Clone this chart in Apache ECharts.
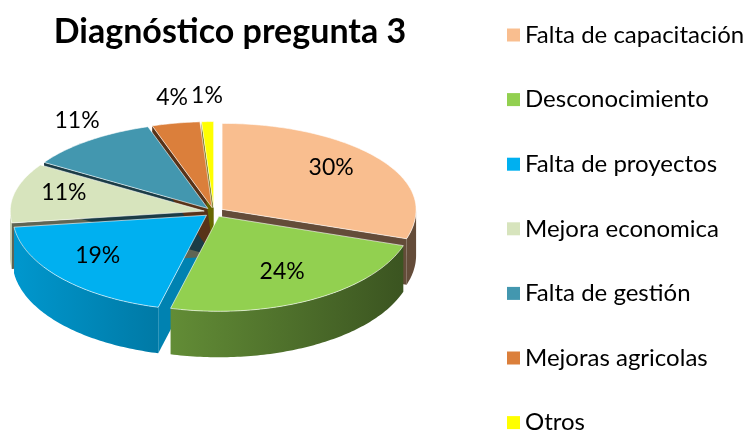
<!DOCTYPE html>
<html>
<head>
<meta charset="utf-8">
<script src="https://cdn.jsdelivr.net/npm/echarts@6/dist/echarts.min.js"></script>
<style>
  html, body { margin: 0; background: #fff; }
  #chart { width: 756px; height: 432px; }
</style>
</head>
<body>
<div id="chart"></div>
<script>
// data
var categories = ['Falta de capacitación', 'Desconocimiento', 'Falta de proyectos',
  'Mejora economica', 'Falta de gestión', 'Mejoras agricolas', 'Otros'];
var values = [30, 24, 19, 11, 11, 4, 1];

// styles
var colors = ['#F9BE8F', '#92D050', '#00B0F0', '#D7E4BD', '#4397AF', '#DB7F3B', '#FFFF00'];
var outsideLabels = ['Falta de gestión', 'Mejoras agricolas', 'Otros'];
var FONT = 'Lato';

// geometry of the tilted pie (back half flatter than front half, a bit of perspective)
var CX = 214, CY = 212, RX = 194, RY_BACK = 86, RY_FRONT = 95, DEPTH = 46, EXPLODE = 10;

var total = values.reduce(function (a, b) { return a + b; }, 0);
var starts = [];
var acc = 0;
values.forEach(function (v) {
  starts.push(acc / total * Math.PI * 2);
  acc += v;
});

function shade(hex, k) {
  var n = parseInt(hex.slice(1), 16);
  var r = Math.round(((n >> 16) & 255) * k);
  var g = Math.round(((n >> 8) & 255) * k);
  var b = Math.round((n & 255) * k);
  return 'rgb(' + r + ',' + g + ',' + b + ')';
}

function ry(a) {
  return Math.cos(a) > 0 ? RY_BACK : RY_FRONT;
}

function rim(a, ox, oy, dz, fx, fy) {
  fx = fx || 1;
  fy = fy || fx;
  return [CX + ox + fx * RX * Math.sin(a), CY + oy - fy * ry(a) * Math.cos(a) + (dz || 0)];
}

function arc(a0, a1, ox, oy, dz) {
  var n = Math.max(2, Math.ceil((a1 - a0) / (Math.PI / 180)));
  var pts = [];
  for (var i = 0; i <= n; i++) pts.push(rim(a0 + (a1 - a0) * i / n, ox, oy, dz));
  return pts;
}

function renderSlice(params, api) {
  var i = params.seriesIndex;
  var v = api.value(0);
  var color = colors[i];
  var a0 = starts[i];
  var a1 = a0 + v / total * Math.PI * 2;
  var mid = (a0 + a1) / 2;
  var ox = EXPLODE * Math.sin(mid);
  var oy = -EXPLODE * Math.cos(mid) * ry(mid) / RX;
  var c = [CX + ox, CY + oy];
  var children = [];

  // cut faces
  function wall(a, normal) {
    var r = rim(a, ox, oy);
    var k = 0.4 + 0.35 * Math.max(0, Math.sin(normal));
    children.push({
      type: 'polygon', z2: 1,
      shape: { points: [c, r, [r[0], r[1] + DEPTH], [c[0], c[1] + DEPTH]] },
      style: { fill: shade(color, k) }
    });
  }
  if (Math.sin(a1) > 0.001) wall(a1, a1 + Math.PI / 2);
  if (Math.sin(a0) < -0.001) wall(a0, a0 - Math.PI / 2);

  // outer rim (front half only)
  var f0 = Math.max(a0, Math.PI / 2), f1 = Math.min(a1, Math.PI * 1.5);
  if (f1 > f0) {
    var pts = arc(f0, f1, ox, oy, 0).concat(arc(f0, f1, ox, oy, DEPTH).reverse());
    children.push({
      type: 'polygon', z2: 2,
      shape: { points: pts },
      style: {
        fill: new echarts.graphic.LinearGradient(CX - RX, 0, CX + RX, 0, [
          { offset: 0, color: shade(color, 0.85) },
          { offset: 1, color: shade(color, 0.4) }
        ], true)
      }
    });
  }

  // top face
  children.push({
    type: 'polygon', z2: 3,
    shape: { points: [c].concat(arc(a0, a1, ox, oy, 0)) },
    style: { fill: color, stroke: 'rgba(255,255,255,0.6)', lineWidth: 1 }
  });

  // percentage label
  var outside = outsideLabels.indexOf(categories[i]) >= 0;
  var lp = outside ? rim(mid, ox, oy, 0, 1.1, 1.3) : rim(mid, ox - 4, oy - 5, 0, 0.72);
  children.push({
    type: 'text', z2: 4,
    style: {
      text: Math.round(v / total * 100) + '%',
      x: lp[0], y: lp[1],
      align: 'center', verticalAlign: 'middle',
      fill: '#000', font: '23px ' + FONT
    }
  });

  return { type: 'group', children: children };
}

var chart = echarts.init(document.getElementById('chart'));
chart.setOption({
  animation: false,
  color: colors,
  title: {
    text: 'Diagnóstico pregunta 3',
    left: 225, top: 10, textAlign: 'center',
    textStyle: { fontFamily: FONT, fontWeight: 'bold', fontSize: 34, color: '#000' }
  },
  legend: {
    orient: 'vertical',
    left: 507, top: 23, height: 480,
    padding: 0,
    icon: 'rect',
    itemWidth: 13, itemHeight: 13,
    itemGap: 40.6,
    data: categories,
    textStyle: { fontFamily: FONT, fontSize: 24, color: '#000' }
  },
  series: categories.map(function (name, i) {
    return {
      type: 'custom',
      name: name,
      coordinateSystem: 'none',
      itemStyle: { color: colors[i] },
      renderItem: renderSlice,
      data: [[values[i]]]
    };
  })
});
</script>
</body>
</html>
